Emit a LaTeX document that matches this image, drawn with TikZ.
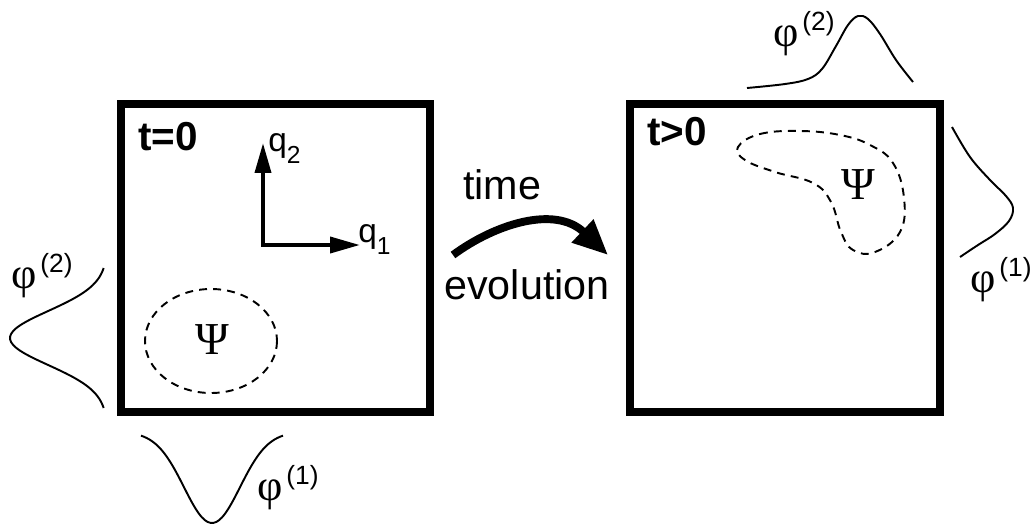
\documentclass[tikz,border=0pt]{standalone}
\usepackage{fontspec}
\setmainfont{Liberation Sans}
\newfontfamily\grk{Liberation Serif}
\usetikzlibrary{arrows.meta}
\begin{document}
\begin{tikzpicture}[x=0.02cm, y=-0.02cm,
    frm/.style={line width=4pt},
    ax/.style={line width=2.3pt, {Triangle[length=17pt,width=9pt]}-{Triangle[length=17pt,width=9pt]}},
    cv/.style={line width=1.1pt},
    wf/.style={line width=1.1pt, dash pattern=on 4.5pt off 3.5pt},
    tl/.style={font=\fontsize{23}{26}\selectfont\bfseries, anchor=base west, inner sep=0pt},
    lb/.style={font=\fontsize{23.5}{26}\selectfont, anchor=base, inner sep=0pt},
    qq/.style={font=\fontsize{19}{22}\selectfont, anchor=base west, inner sep=0pt},
    ph/.style={font=\fontsize{25}{28}\selectfont, inner sep=0pt},
    ps/.style={font=\grk\fontsize{26}{28}\selectfont, inner sep=0pt}]
  \useasboundingbox (0,0) rectangle (1034,528);
  % the two frames
  \draw[frm] (121,104) rectangle (430,412);
  \draw[frm] (630,104) rectangle (940,412);
  \node[tl] (t0) at (138,150) {t=0};
  \node[tl] (t1) at (647,145) {t>0};
  % axes
  \coordinate (q2tip) at (263,143);
  \coordinate (q1tip) at (360,245);
  \draw[ax] (q2tip) |- (q1tip);
  \node[qq] (q2) at (268,151) {q\raisebox{-7pt}{\fontsize{14}{14}\selectfont 2}};
  \node[qq] (q1) at (358,242) {q\raisebox{-7pt}{\fontsize{14}{14}\selectfont 1}};
  % t=0: wave packet and marginals
  \draw[wf] (211,341) ellipse (66 and 52);
  \node[ps] (psiA) at (212,340) {Ψ};
  \draw[cv] plot[domain=-70:70, smooth, samples=50] ({107-97*exp(-(\x/27)*(\x/27)/2)}, {338+\x});
  \draw[cv] plot[domain=-71:71, smooth, samples=50] ({212+\x}, {432+91*exp(-(\x/28)*(\x/28)/2)});
  \node[ph] (phA2) at (42,276) {{\grk φ}\kern2pt\raisebox{9pt}{\fontsize{15}{15}\selectfont (2)}};
  \node[ph] (phA1) at (288,488) {{\grk φ}\kern2pt\raisebox{9pt}{\fontsize{15}{15}\selectfont (1)}};
  % time evolution
  \coordinate (ts) at (453,255);
  \coordinate (te) at (608,255);
  \draw[line width=4.5pt, -{Triangle[length=20pt,width=17pt]}] (ts) .. controls (495,224) and (555,205) .. (te);
  \node[lb] (tm) at (502,199) {time};
  \node[lb] (ev) at (527,299) {evolution};
  % t>0: deformed packet and marginals
  \draw[wf] plot[smooth cycle, tension=0.7] coordinates {(738,147) (760,134) (800,131) (840,135) (870,145) (893,163) (904,198) (900,232) (875,252) (853,250) (841,232) (831,202) (813,183) (775,172) (745,160)};
  \node[ps] (psiB) at (858,185) {Ψ};
  \draw[cv] plot[smooth, tension=0.6] coordinates {(747,88) (785,84) (808,79) (822,69) (836,46) (848,25) (858,16) (868,19) (880,34) (896,60) (913,82)};
  \draw[cv] plot[smooth, tension=0.6] coordinates {(952,127) (970,157) (990,180) (1006,196) (1013,208) (1009,221) (995,234) (978,245) (960,257)};
  \node[ph] (phB2) at (804,34) {{\grk φ}\kern2pt\raisebox{9pt}{\fontsize{15}{15}\selectfont (2)}};
  \node[ph] (phB1) at (1001,280) {{\grk φ}\kern2pt\raisebox{9pt}{\fontsize{15}{15}\selectfont (1)}};
\end{tikzpicture}
\end{document}
